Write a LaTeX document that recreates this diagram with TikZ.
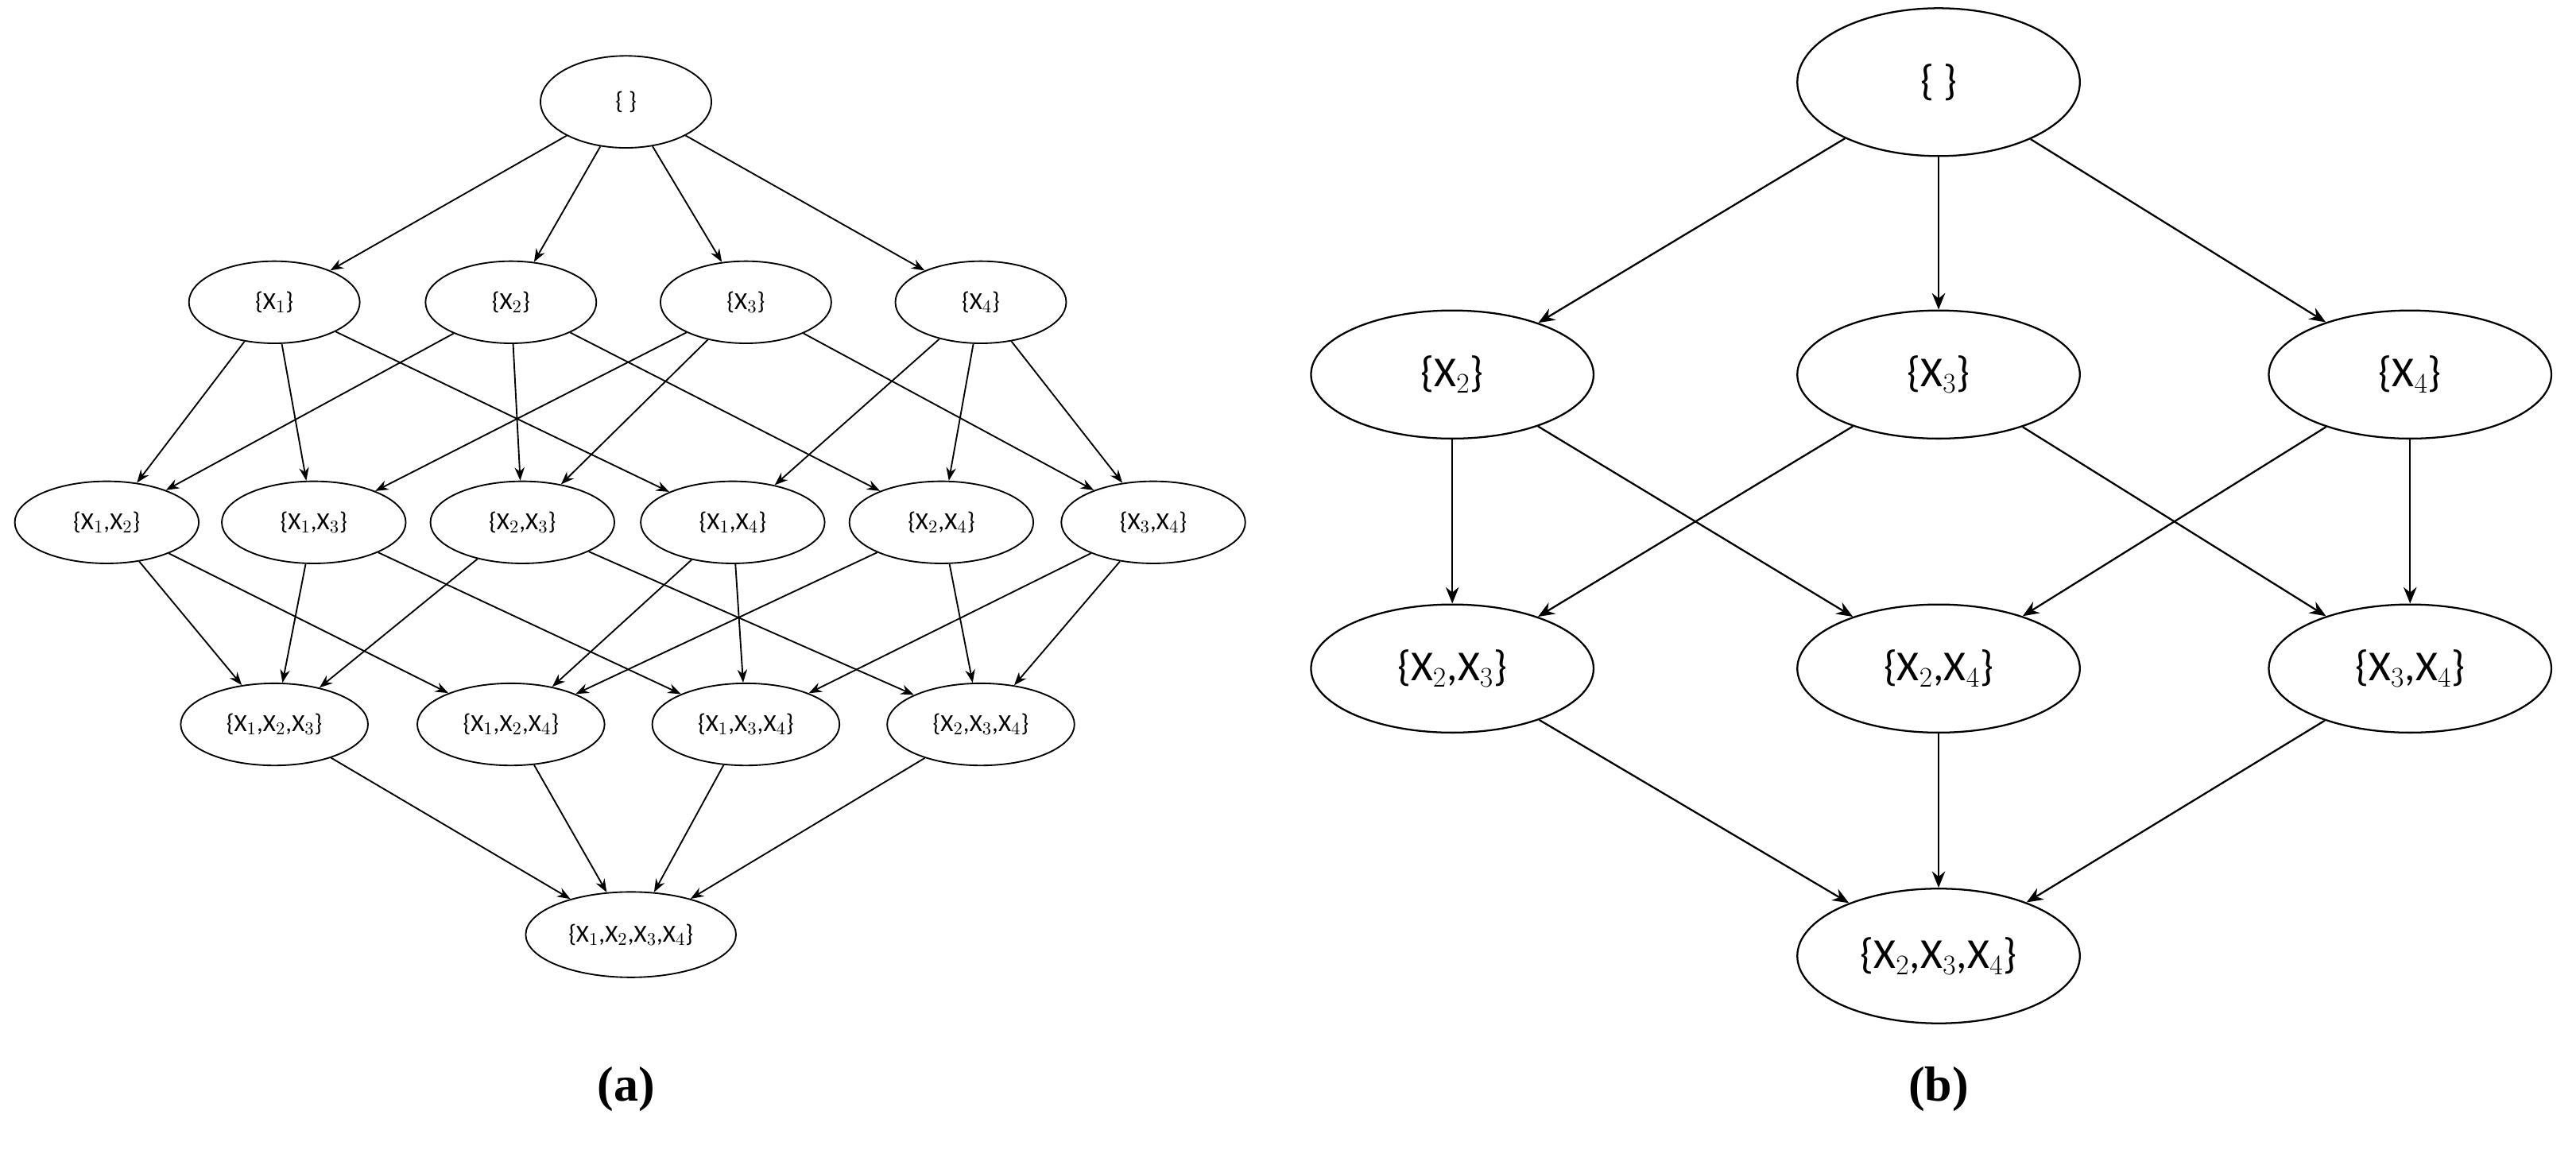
\documentclass[tikz,border=0pt]{standalone}
\usepackage{fontspec}
\setmainfont{Carlito}
\newfontfamily\capfont{Liberation Serif}
\usetikzlibrary{shapes.geometric,arrows.meta}
\begin{document}
\begin{tikzpicture}[x=1pt,y=-1pt,
  ea/.style={ellipse,draw,line width=0.9pt,inner sep=0pt,minimum width=104pt,minimum height=50pt,font=\fontsize{15}{15}\selectfont},
  eb/.style={ellipse,draw,line width=1.1pt,inner sep=0pt,minimum width=172pt,minimum height=78pt,font=\fontsize{26}{26}\selectfont},
  arr/.style={-{Stealth[length=8pt,width=6pt]},line width=0.9pt},
  arrb/.style={-{Stealth[length=10pt,width=8pt]},line width=1.1pt},
  captxt/.style={font=\capfont\bfseries\fontsize{30}{30}\selectfont}]
\useasboundingbox (0,0) rectangle (1568,709);
% (a)
\node[ea,minimum height=56pt] (a0) at (381,62) {\{ \}};
\node[ea] (a1) at (167,184) {\{X$_1$\}};
\node[ea] (a2) at (311,184) {\{X$_2$\}};
\node[ea] (a3) at (454,184) {\{X$_3$\}};
\node[ea] (a4) at (597,184) {\{X$_4$\}};
\node[ea,minimum width=112pt] (a12) at (65,318) {\{X$_1$,X$_2$\}};
\node[ea,minimum width=112pt] (a13) at (191,318) {\{X$_1$,X$_3$\}};
\node[ea,minimum width=112pt] (a23) at (318,318) {\{X$_2$,X$_3$\}};
\node[ea,minimum width=112pt] (a14) at (446,318) {\{X$_1$,X$_4$\}};
\node[ea,minimum width=112pt] (a24) at (573,318) {\{X$_2$,X$_4$\}};
\node[ea,minimum width=112pt] (a34) at (702,318) {\{X$_3$,X$_4$\}};
\node[ea,minimum width=114pt] (a123) at (167,441) {\{X$_1$,X$_2$,X$_3$\}};
\node[ea,minimum width=114pt] (a124) at (311,441) {\{X$_1$,X$_2$,X$_4$\}};
\node[ea,minimum width=114pt] (a134) at (454,441) {\{X$_1$,X$_3$,X$_4$\}};
\node[ea,minimum width=114pt] (a234) at (597,441) {\{X$_2$,X$_3$,X$_4$\}};
\node[ea,minimum width=128pt,minimum height=52pt] (a1234) at (384,569) {\{X$_1$,X$_2$,X$_3$,X$_4$\}};
\foreach \t in {1,2,3,4} \draw[arr] (a0) -- (a\t);
\foreach \s/\t in {1/12,1/13,1/14,2/12,2/23,2/24,3/13,3/23,3/34,4/14,4/24,4/34,
  12/123,12/124,13/123,13/134,23/123,23/234,14/124,14/134,24/124,24/234,34/134,34/234,
  123/1234,124/1234,134/1234,234/1234}
  \draw[arr] (a\s) -- (a\t);
\node[captxt] (capa) at (381,663) {(a)};
% (b)
\node[eb,minimum height=90pt] (b0) at (1180,50) {\{ \}};
\node[eb] (b2) at (884,228) {\{X$_2$\}};
\node[eb] (b3) at (1180,228) {\{X$_3$\}};
\node[eb] (b4) at (1467,228) {\{X$_4$\}};
\node[eb] (b23) at (884,407) {\{X$_2$,X$_3$\}};
\node[eb] (b24) at (1180,407) {\{X$_2$,X$_4$\}};
\node[eb] (b34) at (1467,407) {\{X$_3$,X$_4$\}};
\node[eb,minimum height=82pt] (b234) at (1180,582) {\{X$_2$,X$_3$,X$_4$\}};
\foreach \s/\t in {0/2,0/3,0/4,2/23,2/24,3/23,3/34,4/24,4/34,23/234,24/234,34/234}
  \draw[arrb] (b\s) -- (b\t);
\node[captxt] (capb) at (1180,663) {(b)};
\end{tikzpicture}
\end{document}
